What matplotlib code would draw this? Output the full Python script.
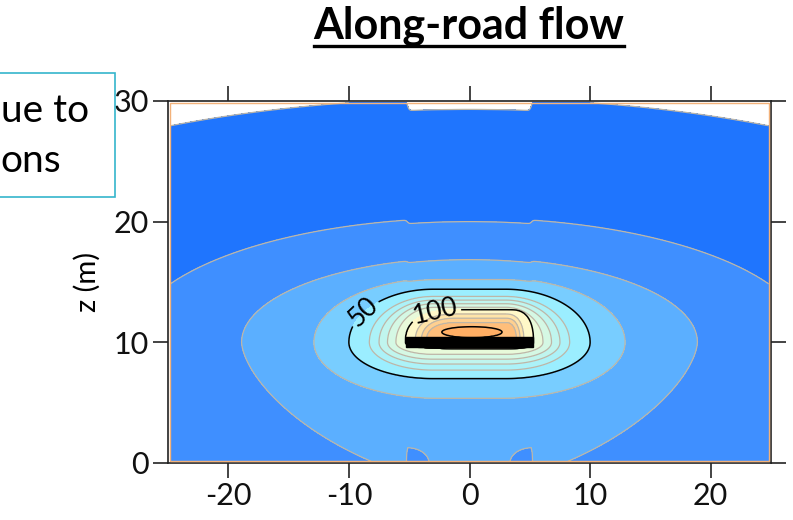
import numpy as np
import matplotlib
matplotlib.use("Agg")
import matplotlib.pyplot as plt
from matplotlib.patches import Rectangle
from matplotlib.lines import Line2D

plt.rcParams['font.family'] = ['Lato', 'DejaVu Sans']
plt.rcParams['axes.unicode_minus'] = False

# ---- data ----
levels = [10, 20, 30, 40, 50, 60, 70, 80, 90, 100, 125, 150, 175, 200]
fill_colors = ['#1F75FE', '#3F8FFF', '#5BAFFF', '#78CDFF', '#9BEEFF',
               '#ACF2F8', '#C0F5EE', '#D5F8E4', '#E8FADA', '#FFF8C8',
               '#FFE4A8', '#FFD090', '#FFBE7A', '#FFAE64']
black_levels = [50, 100, 200]
label_levels = [50, 100]
label_spots = [(-8.5, 12.2), (-2.8, 12.5)]

# contour geometry per level (m): right side core/reach, left side core/reach
shape_xc = [0, 0, 0, 0, 0, 0, 0, 0, 0, 0, 0, 0, 0, 0.2]
shape_w = [0, 0, 0, 2.5, 3, 3, 3, 3, 3, 3.5, 3, 3, 3, 0]
shape_a = [54, 28.1, 18.9, 10.4, 7, 5.3, 4.5, 3.8, 3.1, 1.8, 1.5, 1.2, 0.9, 2.5]
shape_wl = [0, 0, 0, 2.5, 3, 3, 3, 3, 3, 1.0, 1.0, 1.0, 1.0, 0]
shape_al = [54, 28.1, 18.9, 10.4, 7, 5.3, 4.5, 3.8, 3.1, 4.3, 3.5, 3.0, 2.6, 2.5]
shape_zc = [10, 10, 10, 10, 10, 10, 10, 10, 10, 10, 10, 10, 10, 10.85]
shape_top = [20.2, 10.3, 7, 5.3, 4.4, 3.8, 3.5, 3.2, 2.9, 2.7, 2.35, 2.0, 1.65, 0.45]
shape_bot = [60, 60, 11.9, 4.64, 3.0, 2.3, 1.8, 1.4, 1.0, 0.5, 0.47, 0.44, 0.42, 0.45]
shape_ptop = [2, 2, 2, 2, 2, 2, 2, 2, 2, 2.5, 2.5, 2.5, 2.5, 2]
shape_pbot = [2, 2, 1.6, 2, 2, 2, 2, 2, 2, 2.5, 2.5, 2.5, 2.5, 2]
shape_notch = [0.9, 0.3, 0.15, 0.1, 0, 0, 0, 0, 0, 0, 0, 0, 0, 0]
notch_half = 5.15
ground_blob_x = [-5.15, 5.15]
ground_blob_reach = 1.8
ground_blob_height = 1.27

road_x = [-5.25, 5.3]
road_z = [9.65, 10.45]
domain_x = [-24.8, 24.8]
domain_z = [0.15, 29.85]

xticks = [-20, -10, 0, 10, 20]
yticks = [0, 10, 20, 30]

# ---- build field ----
xg = np.linspace(domain_x[0], domain_x[1], 800)
zg = np.linspace(domain_z[0], domain_z[1], 480)
X, Z = np.meshgrid(xg, zg)
K = len(levels)
G = np.empty((K, len(zg), len(xg)))
over_road = 1.0 / (1.0 + np.exp(-(notch_half - np.abs(X)) / 0.07))
for k in range(K):
    rel = X - shape_xc[k]
    left = rel < 0
    core = np.where(left, shape_wl[k], shape_w[k])
    reach = np.where(left, shape_al[k], shape_a[k])
    dx = np.maximum(np.abs(rel) - core, 0)
    dz = Z - shape_zc[k]
    up = dz > 0
    dz = np.where(up, dz + shape_notch[k] * over_road, dz)
    b = np.where(up, shape_top[k], shape_bot[k])
    p = np.where(up, shape_ptop[k], shape_pbot[k])
    rho = ((dx / reach) ** p + (np.abs(dz) / b) ** p) ** (1.0 / p)
    if levels[k] == 30:
        for xb in ground_blob_x:
            u = (X - xb) * (-np.sign(xb))
            ab = np.where(u > 0, ground_blob_reach, 0.05)
            q = (u / ab) ** 2 + (Z / ground_blob_height) ** 2
            rho = np.maximum(rho, 1.0 / np.sqrt(np.maximum(q, 1e-9)))
    G[k] = np.log(np.maximum(rho, 1e-9))

n = (G < 0).sum(axis=0)
gi = np.take_along_axis(G, np.clip(n - 1, 0, K - 1)[None], 0)[0]
go = np.take_along_axis(G, np.clip(n, 0, K - 1)[None], 0)[0]
den = np.where(go - gi == 0, 1, go - gi)
s = (n - 1) + (-gi / den)
s = np.where(n == 0, -G[0], s)
s = np.where(n == K, (K - 1) - G[K - 1], s)
lv = np.array(levels, float)
C = np.interp(s, np.arange(K), lv)
C = np.where(s < 0, lv[0] + s * (lv[1] - lv[0]), C)
C = np.where(s > K - 1, lv[-1] + (s - (K - 1)) * 50, C)

# ---- figure ----
W, H = 793, 520
fig = plt.figure(figsize=(W / 100, H / 100), dpi=100)
ax = fig.add_axes([168 / W, 1 - 463 / H, (771 - 168) / W, (463 - 101) / H])

ax.contourf(X, Z, C, levels=levels + [1e6], colors=fill_colors)
gray_levels = [l for l in levels if l not in black_levels]
ax.contour(X, Z, C, levels=gray_levels, colors='#BDB6A8', linewidths=0.9)
cs = ax.contour(X, Z, C, levels=black_levels, colors='k', linewidths=1.1)
ax.clabel(cs, levels=label_levels, manual=label_spots, inline=True,
          fontsize=19, fmt='%d', inline_spacing=3)

ax.add_patch(Rectangle((road_x[0], road_z[0]), road_x[1] - road_x[0],
                       road_z[1] - road_z[0], color='k', zorder=5))
ax.add_patch(Rectangle((domain_x[0], domain_z[0]), domain_x[1] - domain_x[0],
                       domain_z[1] - domain_z[0], fill=False, ec='#F3B27A',
                       lw=1.0, zorder=4))

ax.set_xlim(-25, 25)
ax.set_ylim(0, 30)
ax.set_xticks(xticks)
ax.set_yticks(yticks)
ax.tick_params(direction='out', length=11, width=1.1, top=True, right=True,
               labelsize=22, colors='#111111', pad=3)
for sp in ax.spines.values():
    sp.set_linewidth(1.2)
    sp.set_color('#222222')
ax.set_ylabel('z (m)', fontsize=21, labelpad=9)

# title with underline
title = fig.text(469 / W, 1 - 38 / H, 'Along-road flow', ha='center',
                 va='baseline', fontsize=31, fontweight='bold')
fig.canvas.draw()
bb = title.get_window_extent()
uy = (H - 46) / H
fig.add_artist(Line2D([bb.x0 / W, bb.x1 / W], [uy, uy], color='k', lw=2.4))

# partially visible text box at left
fig.add_artist(Rectangle((-5 / W, 1 - 197 / H), 120 / W, 124 / H,
                         transform=fig.transFigure, fill=True, fc='white',
                         ec='#35B5CC', lw=1.2))
fig.text(1 / W, 1 - 111 / H, 'ue to', ha='left', va='center', fontsize=28)
fig.text(0 / W, 1 - 161 / H, 'ons', ha='left', va='center', fontsize=28)

fig.savefig('out.png', dpi=100)
